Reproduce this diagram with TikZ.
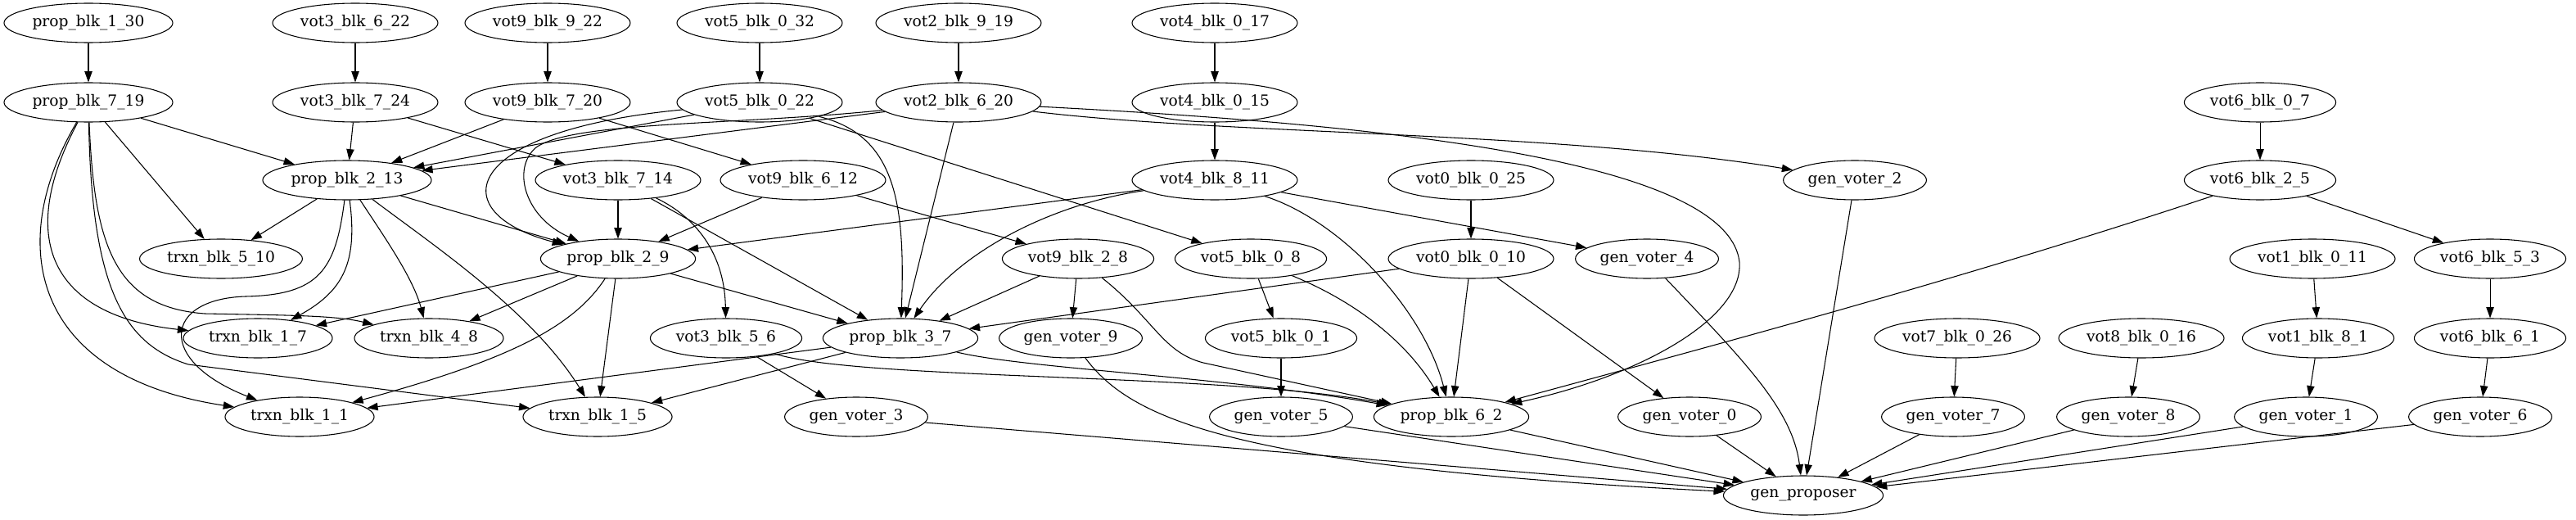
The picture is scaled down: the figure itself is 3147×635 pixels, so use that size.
\documentclass[tikz,border=0pt]{standalone}
\usepackage{fontspec}
\setmainfont{DejaVu Serif}
\usetikzlibrary{arrows.meta,shapes.geometric}
\begin{document}
\begin{tikzpicture}[x=0.75pt,y=-0.75pt,
  nd/.style={draw, ellipse, line width=0.8pt, inner xsep=3.3pt, inner ysep=0pt, minimum height=36pt, font=\fontsize{14}{16}\selectfont},
  ed/.style={draw, line width=0.8pt, -{Triangle[length=10pt,width=7pt]}}]
\path[use as bounding box] (0,0) rectangle (3147,635);
% row 1
\node[nd] (p130) at (108,28) {prop\_blk\_1\_30};
\node[nd] (v3622) at (434,28) {vot3\_blk\_6\_22};
\node[nd] (v9922) at (669,28) {vot9\_blk\_9\_22};
\node[nd] (v5032) at (928,28) {vot5\_blk\_0\_32};
\node[nd] (v2919) at (1171,28) {vot2\_blk\_9\_19};
\node[nd] (v4017) at (1484,28) {vot4\_blk\_0\_17};
% row 2
\node[nd] (p719) at (108,125) {prop\_blk\_7\_19};
\node[nd] (v3724) at (434,125) {vot3\_blk\_7\_24};
\node[nd] (v9720) at (669,125) {vot9\_blk\_7\_20};
\node[nd] (v5022) at (928,125) {vot5\_blk\_0\_22};
\node[nd] (v2620) at (1171,125) {vot2\_blk\_6\_20};
\node[nd] (v4015) at (1484,125) {vot4\_blk\_0\_15};
\node[nd] (v607) at (2761,125) {vot6\_blk\_0\_7};
% row 3
\node[nd] (p213) at (424,220) {prop\_blk\_2\_13};
\node[nd] (v3714) at (755,220) {vot3\_blk\_7\_14};
\node[nd] (v9612) at (981,220) {vot9\_blk\_6\_12};
\node[nd] (v4811) at (1484,220) {vot4\_blk\_8\_11};
\node[nd] (v0025) at (1797,220) {vot0\_blk\_0\_25};
\node[nd] (gv2) at (2266,220) {gen\_voter\_2};
\node[nd] (v625) at (2761,220) {vot6\_blk\_2\_5};
% row 4
\node[nd] (t510) at (270,316) {trxn\_blk\_5\_10};
\node[nd] (p29) at (755,316) {prop\_blk\_2\_9};
\node[nd] (v928) at (1317,316) {vot9\_blk\_2\_8};
\node[nd] (v508) at (1528,316) {vot5\_blk\_0\_8};
\node[nd] (v0010) at (1797,316) {vot0\_blk\_0\_10};
\node[nd] (gv4) at (2012,316) {gen\_voter\_4};
\node[nd] (v1011) at (2825,316) {vot1\_blk\_0\_11};
\node[nd] (v653) at (3042,316) {vot6\_blk\_5\_3};
% row 5
\node[nd] (t17) at (315,413) {trxn\_blk\_1\_7};
\node[nd] (t48) at (524,413) {trxn\_blk\_4\_8};
\node[nd] (v356) at (887,413) {vot3\_blk\_5\_6};
\node[nd] (p37) at (1100,413) {prop\_blk\_3\_7};
\node[nd] (gv9) at (1308,413) {gen\_voter\_9};
\node[nd] (v501) at (1565,413) {vot5\_blk\_0\_1};
\node[nd] (v7026) at (2391,413) {vot7\_blk\_0\_26};
\node[nd] (v8016) at (2616,413) {vot8\_blk\_0\_16};
\node[nd] (v181) at (2832,413) {vot1\_blk\_8\_1};
\node[nd] (v661) at (3042,413) {vot6\_blk\_6\_1};
% row 6
\node[nd] (t11) at (366,509) {trxn\_blk\_1\_1};
\node[nd] (t15) at (730,509) {trxn\_blk\_1\_5};
\node[nd] (gv3) at (1046,509) {gen\_voter\_3};
\node[nd] (gv5) at (1565,509) {gen\_voter\_5};
\node[nd] (p62) at (1773,509) {prop\_blk\_6\_2};
\node[nd] (gv0) at (2064,509) {gen\_voter\_0};
\node[nd] (gv7) at (2386,509) {gen\_voter\_7};
\node[nd] (gv8) at (2600,509) {gen\_voter\_8};
\node[nd] (gv1) at (2817,509) {gen\_voter\_1};
\node[nd] (gv6) at (3030,509) {gen\_voter\_6};
% row 7
\node[nd] (gp) at (2203,605) {gen\_proposer};

% edges
\draw[ed] (p130) -- (p719);
\draw[ed] (v3622) -- (v3724);
\draw[ed] (v9922) -- (v9720);
\draw[ed] (v5032) -- (v5022);
\draw[ed] (v2919) -- (v2620);
\draw[ed] (v4017) -- (v4015);
\draw[ed] (v607) -- (v625);

\draw[ed] (p719) -- (p213);
\draw[ed] (p719) -- (t510);
\draw[ed] (p719) .. controls (5,300) and (40,460) .. (t11);
\draw[ed] (p719) .. controls (20,290) and (60,385) .. (t17);
\draw[ed] (p719) .. controls (115,300) and (140,375) .. (250,383) .. controls (350,385) and (410,385) .. (t48);
\draw[ed] (p719) .. controls (112,350) and (150,420) .. (230,445) -- (t15);

\draw[ed] (v3724) -- (p213);
\draw[ed] (v3724) -- (v3714);
\draw[ed] (v9720) -- (p213);
\draw[ed] (v9720) -- (v9612);

\draw[ed] (v5022) -- (p213);
\draw[ed] (v5022) .. controls (560,160) and (540,260) .. (p29);
\draw[ed] (v5022) .. controls (1095,165) and (1106,250) .. (p37);
\draw[ed] (v5022) -- (v508);

\draw[ed] (v2620) -- (p213);
\draw[ed] (v2620) .. controls (900,153) and (700,148) .. (655,180) .. controls (625,205) and (640,265) .. (p29);
\draw[ed] (v2620) -- (p37);
\draw[ed] (v2620) .. controls (1500,165) and (1900,160) .. (gv2);
\draw[ed] (v2620) .. controls (1650,150) and (2110,190) .. (2125,320) .. controls (2130,390) and (2000,460) .. (p62);

\draw[ed] (v4015) -- (v4811);
\draw[ed] (v4811) -- (p29);
\draw[ed] (v4811) .. controls (1280,250) and (1170,310) .. (p37);
\draw[ed] (v4811) -- (gv4);
\draw[ed] (v4811) .. controls (1640,270) and (1740,380) .. (p62);

\draw[ed] (v0025) -- (v0010);
\draw[ed] (v0010) -- (p37);
\draw[ed] (v0010) -- (p62);
\draw[ed] (v0010) -- (gv0);

\draw[ed] (gv2) -- (gp);
\draw[ed] (gv4) .. controls (2130,440) and (2190,500) .. (gp);

\draw[ed] (v625) -- (v653);
\draw[ed] (v625) .. controls (2400,340) and (2100,420) .. (p62);
\draw[ed] (v653) -- (v661);
\draw[ed] (v1011) -- (v181);
\draw[ed] (v181) -- (gv1);
\draw[ed] (v661) -- (gv6);
\draw[ed] (v7026) -- (gv7);
\draw[ed] (v8016) -- (gv8);

\draw[ed] (gv7) -- (gp);
\draw[ed] (gv8) -- (gp);
\draw[ed] (gv1) -- (gp);
\draw[ed] (gv6) -- (gp);
\draw[ed] (gv0) -- (gp);
\draw[ed] (p62) -- (gp);
\draw[ed] (gv5) -- (gp);
\draw[ed] (gv3) -- (gp);
\draw[ed] (gv9) .. controls (1380,510) and (1500,570) .. (gp);

\draw[ed] (v508) -- (v501);
\draw[ed] (v508) .. controls (1660,370) and (1720,420) .. (p62);
\draw[ed] (v501) -- (gv5);

\draw[ed] (v9612) -- (p29);
\draw[ed] (v9612) -- (v928);
\draw[ed] (v928) -- (p37);
\draw[ed] (v928) -- (gv9);
\draw[ed] (v928) .. controls (1410,390) and (1420,430) .. (1470,443) -- (p62);

\draw[ed] (v3714) -- (p29);
\draw[ed] (v3714) .. controls (840,260) and (885,300) .. (v356);
\draw[ed] (v3714) -- (p37);
\draw[ed] (v356) -- (gv3);
\draw[ed] (v356) .. controls (1050,465) and (1500,455) .. (p62);

\draw[ed] (p213) -- (t510);
\draw[ed] (p213) -- (p29);
\draw[ed] (p213) .. controls (437,320) and (420,355) .. (t17);
\draw[ed] (p213) .. controls (410,330) and (390,360) .. (300,362) .. controls (200,365) and (190,440) .. (t11);
\draw[ed] (p213) .. controls (470,290) and (505,340) .. (t48);
\draw[ed] (p213) .. controls (530,300) and (650,380) .. (t15);

\draw[ed] (p29) -- (t17);
\draw[ed] (p29) -- (t48);
\draw[ed] (p29) .. controls (700,400) and (620,440) .. (t11);
\draw[ed] (p29) -- (t15);
\draw[ed] (p29) -- (p37);

\draw[ed] (p37) -- (t11);
\draw[ed] (p37) -- (t15);
\draw[ed] (p37) .. controls (1250,450) and (1500,460) .. (p62);
\end{tikzpicture}
\end{document}
